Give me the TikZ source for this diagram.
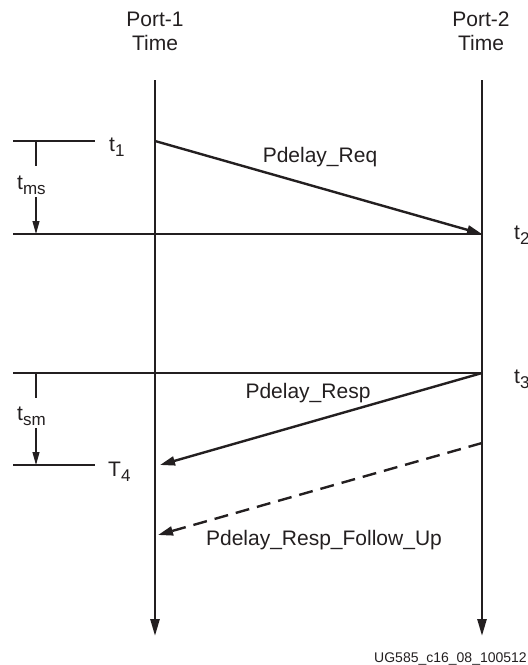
\documentclass[tikz,border=0pt]{standalone}
\usepackage{fontspec}
\setmainfont{Liberation Sans}
\usetikzlibrary{arrows.meta, positioning}
\definecolor{lineink}{RGB}{35, 31, 32}
\newcommand{\lowidx}[1]{\raisebox{-5pt}{\fontsize{17}{18}\selectfont #1}}
\tikzset{
  timeline/.style={
    draw=lineink,
    line width=2.6pt,
    -{Triangle[length=17pt,width=9pt]}
  },
  message/.style={
    draw=lineink,
    line width=2.4pt,
    -{Triangle[length=15pt,width=9pt]}
  },
  refline/.style={
    draw=lineink,
    line width=1.1pt
  },
  span/.style={
    draw=lineink,
    line width=1.1pt,
    -{Triangle[length=13pt,width=7pt]}
  },
  every node/.style={
    font=\fontsize{21}{24}\selectfont,
    text=lineink,
    inner sep=0pt
  }
}

\begin{document}
\begin{tikzpicture}[x=1pt, y=-1pt]
          \useasboundingbox (0,0) rectangle (528,665);
          % port headings
          \node[anchor=base] (port1) at (155,26) {Port-1};
          \node[anchor=base] (time1) at (155,50) {Time};
          \node[anchor=base] (port2) at (481,26) {Port-2};
          \node[anchor=base] (time2) at (481,50) {Time};
          
          % event points
          \coordinate (p1top) at (155,80);
          \coordinate (p1end) at (155,636);
          \coordinate (p2top) at (482,80);
          \coordinate (p2end) at (482,636);
          \coordinate (ev1) at (155,141);
          \coordinate (ev2) at (482,234);
          \coordinate (ev3) at (482,373);
          \coordinate (ev4) at (160,465);
          \coordinate (fustart) at (482,443);
          \coordinate (fuend) at (158,535);
          
          % reference lines
          \coordinate (ref1a) at (13,141);
          \coordinate (ref1b) at (95,141);
          \coordinate (ref2) at (13,234);
          \coordinate (ref3) at (13,373);
          \coordinate (ref4a) at (13,465);
          \coordinate (ref4b) at (95,465);
          \draw[refline] (ref1a) -- (ref1b);
          \draw[refline] (ref2) -- (ev2);
          \draw[refline] (ref3) -- (ev3);
          \draw[refline] (ref4a) -- (ref4b);
          
          \node[anchor=base west] (t1) at (109,151) {t\lowidx{1}};
          \node[anchor=base west] (t2) at (514,239) {t\lowidx{2}};
          \node[anchor=base west] (t3) at (514,383) {t\lowidx{3}};
          \node[anchor=base west] (t4) at (108,476) {T\lowidx{4}};
          
          % intervals
          \node[anchor=base west] (tms) at (17,189) {t\lowidx{ms}};
          \node[anchor=base west] (tsm) at (17,420) {t\lowidx{sm}};
          \draw[refline] (36,141) -- (36,166);
          \draw[span] (36,197) -- (36,234);
          \draw[refline] (36,373) -- (36,398);
          \draw[span] (36,428) -- (36,465);
          
          % time axes
          \draw[timeline] (p1top) -- (p1end);
          \draw[timeline] (p2top) -- (p2end);
          
          % messages
          \draw[message] (ev1) -- (ev2);
          \node (req) at (320,157) {Pdelay\_Req};
          \draw[message] (ev3) -- (ev4);
          \node (resp) at (308,393) {Pdelay\_Resp};
          \draw[message, dash pattern=on 14pt off 8pt] (fustart) -- (fuend);
          \node (followup) at (324,540) {Pdelay\_Resp\_Follow\_Up};
          
          \node[anchor=base east, font=\fontsize{14}{16}\selectfont] (figid) at (527,662) {UG585\_c16\_08\_100512};
        \end{tikzpicture}
\end{document}
